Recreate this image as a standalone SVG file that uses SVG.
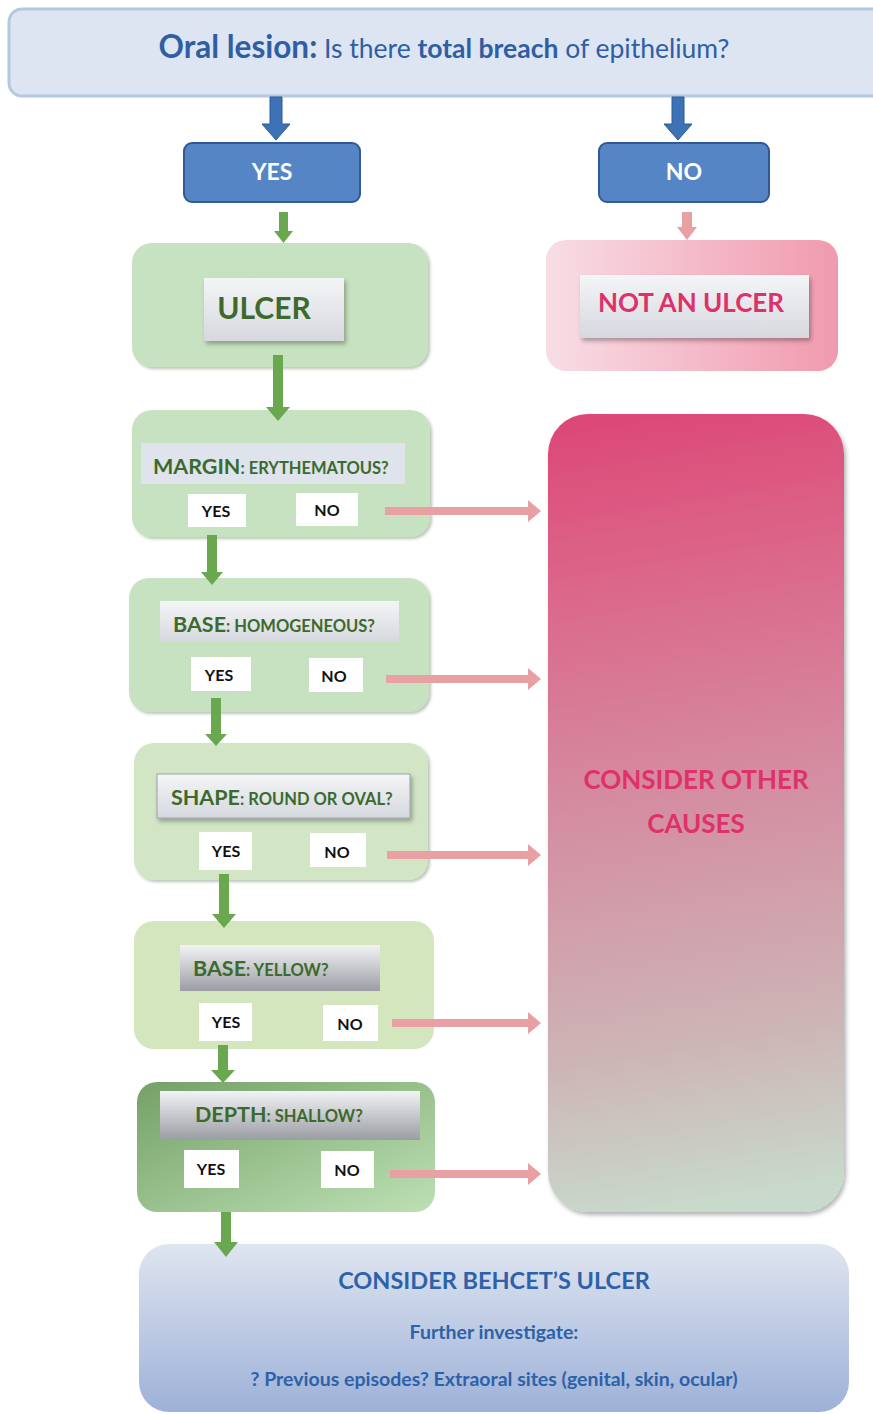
<svg xmlns="http://www.w3.org/2000/svg" width="873" height="1414" viewBox="0 0 873 1414">
<defs>
<linearGradient id="gLabel" x1="0" y1="0" x2="0" y2="1"><stop offset="0" stop-color="#f4f5f7"/><stop offset="1" stop-color="#d5d8de"/></linearGradient>
<linearGradient id="gLabelDark" x1="0" y1="0" x2="0" y2="1"><stop offset="0" stop-color="#f2f3f5"/><stop offset="1" stop-color="#9a9da3"/></linearGradient>
<linearGradient id="gNot" x1="0" y1="0" x2="1" y2="0"><stop offset="0" stop-color="#f8dde5"/><stop offset="1" stop-color="#f09aae"/></linearGradient>
<linearGradient id="gOther" gradientUnits="userSpaceOnUse" x1="548" y1="414" x2="680" y2="1212"><stop offset="0" stop-color="#dc4676"/><stop offset="0.2" stop-color="#dc6488"/><stop offset="0.5" stop-color="#d48ea2"/><stop offset="0.8" stop-color="#cdb5b6"/><stop offset="1" stop-color="#c8dacb"/></linearGradient>
<linearGradient id="gDepth" x1="0" y1="0" x2="1" y2="1"><stop offset="0" stop-color="#74a167"/><stop offset="1" stop-color="#bde0b4"/></linearGradient>
<linearGradient id="gBehcet" x1="0" y1="0" x2="0" y2="1"><stop offset="0" stop-color="#dfe5f0"/><stop offset="1" stop-color="#9db1d8"/></linearGradient>
<filter id="sh" x="-10%" y="-10%" width="125%" height="130%"><feDropShadow dx="2" dy="3" stdDeviation="2" flood-color="#000" flood-opacity="0.3"/></filter>
<filter id="sh2" x="-10%" y="-10%" width="125%" height="130%"><feDropShadow dx="2" dy="2" stdDeviation="1.5" flood-color="#3d5a30" flood-opacity="0.35"/></filter>
</defs>
<style>
text{font-family:Lato,"Open Sans","Liberation Sans",sans-serif;font-weight:bold}
.reg{font-weight:normal}
.g{fill:#3c6a2d}
.yn{fill:#fff}
.ynt{fill:#111;font-size:16px;text-anchor:middle}
.sub{font-size:16.5px}
.head{font-size:21.5px}
.garrow{fill:#6aa84f}
.parrow{fill:#e8a0a3}
.barrow{fill:#3d73b6;stroke:#2b5a94;stroke-width:1}
.box{fill:#c7e2c0}
</style>
<rect width="873" height="1414" fill="#ffffff"/>

<g id="top">
<rect x="9" y="9" width="880" height="87" rx="13" fill="#dce5f1" stroke="#b4c8e2" stroke-width="3"/>
<text x="444" y="58" text-anchor="middle" fill="#2f5ea4" font-size="26.5"><tspan font-size="31.5">Oral lesion:</tspan><tspan class="reg"> Is there </tspan><tspan>total breach</tspan><tspan class="reg"> of epithelium?</tspan></text>
</g>

<g id="yes-top">
<rect x="184" y="143" width="176" height="59" rx="8" fill="#5585c4" stroke="#2e5a96" stroke-width="2"/>
<text x="272" y="180" text-anchor="middle" fill="#fff" font-size="23">YES</text>
</g>
<g id="no-top">
<rect x="599" y="143" width="170" height="59" rx="8" fill="#5585c4" stroke="#2e5a96" stroke-width="2"/>
<text x="684" y="180" text-anchor="middle" fill="#fff" font-size="23">NO</text>
</g>

<g id="ulcer">
<rect x="132" y="243" width="296" height="124" rx="20" class="box" filter="url(#sh2)"/>
<rect x="204" y="278" width="140" height="63" fill="url(#gLabel)" filter="url(#sh)"/>
<text x="264" y="319" text-anchor="middle" class="g" font-size="30">ULCER</text>
</g>

<g id="not-ulcer">
<rect x="546" y="240" width="292" height="131" rx="20" fill="url(#gNot)"/>
<rect x="580" y="275" width="229" height="63" fill="url(#gLabel)" filter="url(#sh)"/>
<text x="691" y="312" text-anchor="middle" fill="#e0306a" font-size="26">NOT AN ULCER</text>
</g>

<g id="margin">
<rect x="132" y="410" width="298" height="127" rx="20" class="box" filter="url(#sh2)"/>
<rect x="141" y="443" width="264" height="41" fill="#dee3ec"/>
<text x="153" y="474" class="g head">MARGIN<tspan class="sub">: ERYTHEMATOUS?</tspan></text>
<rect x="188" y="494" width="58" height="33" class="yn"/>
<text x="216" y="517" class="ynt">YES</text>
<rect x="296" y="493" width="62" height="33" class="yn"/>
<text x="327" y="516" class="ynt">NO</text>
</g>

<g id="base-homog">
<rect x="129" y="578" width="300" height="134" rx="20" class="box" filter="url(#sh2)"/>
<rect x="160" y="601" width="239" height="41" fill="url(#gLabel)"/>
<text x="173" y="632" class="g head">BASE<tspan class="sub">: HOMOGENEOUS?</tspan></text>
<rect x="191" y="657" width="60" height="34" class="yn"/>
<text x="219" y="681" class="ynt">YES</text>
<rect x="309" y="658" width="54" height="34" class="yn"/>
<text x="334" y="682" class="ynt">NO</text>
</g>

<g id="shape">
<rect x="134" y="743" width="294" height="137" rx="20" fill="#d2e6c6" filter="url(#sh2)"/>
<rect x="157" y="774" width="253" height="44" fill="url(#gLabel)" stroke="#9aa0a8" stroke-width="1" filter="url(#sh)"/>
<text x="171" y="805" class="g head">SHAPE<tspan class="sub">: ROUND OR OVAL?</tspan></text>
<rect x="199" y="832" width="53" height="38" class="yn"/>
<text x="226" y="857" class="ynt">YES</text>
<rect x="310" y="833" width="56" height="34" class="yn"/>
<text x="337" y="858" class="ynt">NO</text>
</g>

<g id="base-yellow">
<rect x="134" y="921" width="300" height="128" rx="20" fill="#d3e6bd"/>
<rect x="180" y="945" width="200" height="46" fill="url(#gLabelDark)"/>
<text x="193" y="976" class="g head">BASE<tspan class="sub">: YELLOW?</tspan></text>
<rect x="199" y="1003" width="53" height="38" class="yn"/>
<text x="226" y="1028" class="ynt">YES</text>
<rect x="323" y="1005" width="55" height="36" class="yn"/>
<text x="350" y="1030" class="ynt">NO</text>
</g>

<g id="depth">
<rect x="137" y="1082" width="298" height="130" rx="20" fill="url(#gDepth)"/>
<rect x="160" y="1091" width="260" height="49" fill="url(#gLabelDark)"/>
<text x="195" y="1122" class="g head">DEPTH<tspan class="sub">: SHALLOW?</tspan></text>
<rect x="184" y="1150" width="55" height="38" class="yn"/>
<text x="211" y="1175" class="ynt">YES</text>
<rect x="321" y="1151" width="53" height="37" class="yn"/>
<text x="347" y="1176" class="ynt">NO</text>
</g>

<g id="other-causes">
<rect x="548" y="414" width="296" height="798" rx="40" fill="url(#gOther)" filter="url(#sh)"/>
<text x="696" y="789" text-anchor="middle" fill="#e0306a" font-size="26">CONSIDER OTHER</text>
<text x="696" y="833" text-anchor="middle" fill="#e0306a" font-size="26">CAUSES</text>
</g>

<g id="behcet">
<rect x="139" y="1244" width="710" height="168" rx="30" fill="url(#gBehcet)"/>
<text x="494" y="1289" text-anchor="middle" fill="#2d62a8" font-size="23.5">CONSIDER BEHCET’S ULCER</text>
<text x="494" y="1339" text-anchor="middle" fill="#2d62a8" font-size="19.5">Further investigate:</text>
<text x="494" y="1386" text-anchor="middle" fill="#2d62a8" font-size="19.5">? Previous episodes? Extraoral sites (genital, skin, ocular)</text>
</g>

<g id="connectors">
<path class="barrow" d="M270 97 H282 V124 H290 L276 140 L262 124 H270 Z"/>
<path class="barrow" d="M672 97 H684 V124 H692 L678 140 L664 124 H672 Z"/>
<path class="garrow" d="M279 212 H288 V231 H293 L283.5 243 L274 231 H279 Z"/>
<path class="parrow" d="M682 212 H692 V227 H697 L687 240 L677 227 H682 Z"/>
<path class="garrow" d="M273 355 H283 V407 H290 L278 421 L266 407 H273 Z"/>
<path class="garrow" d="M207 535 H217 V572 H223 L212 585 L201 572 H207 Z"/>
<path class="garrow" d="M211 698 H221 V734 H227 L216 746 L205 734 H211 Z"/>
<path class="garrow" d="M219 874 H229 V914 H236 L224 928 L212 914 H219 Z"/>
<path class="garrow" d="M218 1045 H228 V1070 H235 L223 1083 L211 1070 H218 Z"/>
<path class="garrow" d="M221 1212 H231 V1242 H238 L226 1257 L214 1242 H221 Z"/>
<path class="parrow" d="M385 507 H528 V500 L541 511 L528 522 V515 H385 Z"/>
<path class="parrow" d="M386 675 H528 V668 L541 679 L528 690 V683 H386 Z"/>
<path class="parrow" d="M387 851 H528 V844 L541 855 L528 866 V859 H387 Z"/>
<path class="parrow" d="M392 1019 H528 V1012 L541 1023 L528 1034 V1027 H392 Z"/>
<path class="parrow" d="M390 1170 H528 V1163 L541 1174 L528 1185 V1178 H390 Z"/>
</g>
</svg>
